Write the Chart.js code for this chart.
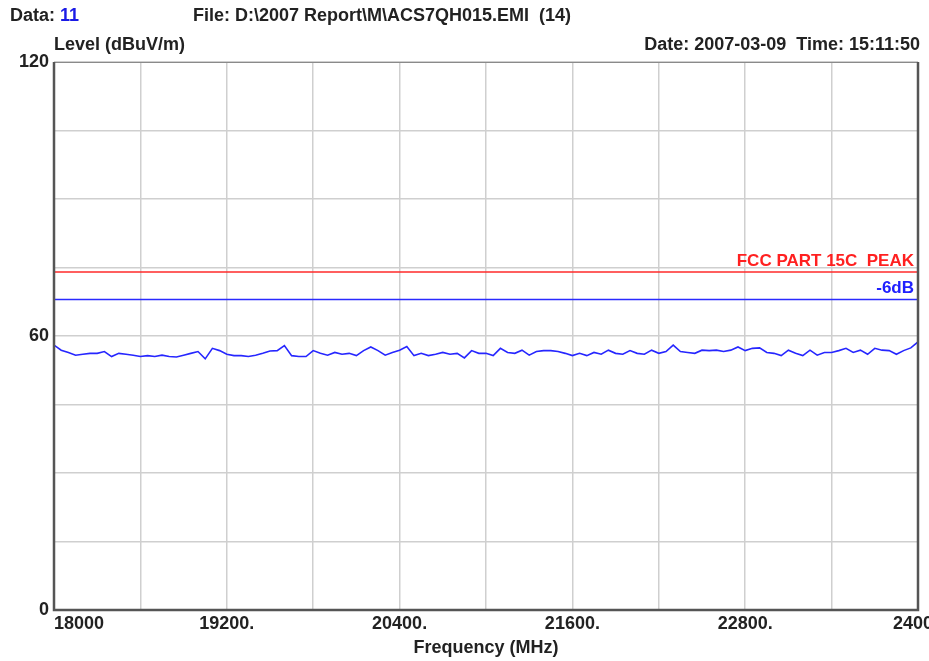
<!DOCTYPE html>
<html>
<head>
<meta charset="utf-8">
<title>EMI scan</title>
<script src="https://cdn.jsdelivr.net/npm/chart.js@4.4.1/dist/chart.umd.min.js"></script>
<style>
    html, body { margin: 0; padding: 0; background: #fff; }
    #wrap { width: 929px; height: 661px; }
</style>
</head>
<body>
<div id="wrap"><canvas id="emiChart" width="929" height="661"></canvas></div>
<script>
// scan frequencies (MHz)
const freqs = [
    18000, 18050, 18100, 18150, 18200, 18250, 18300, 18350, 18400, 18450,
    18500, 18550, 18600, 18650, 18700, 18750, 18800, 18850, 18900, 18950,
    19000, 19050, 19100, 19150, 19200, 19250, 19300, 19350, 19400, 19450,
    19500, 19550, 19600, 19650, 19700, 19750, 19800, 19850, 19900, 19950,
    20000, 20050, 20100, 20150, 20200, 20250, 20300, 20350, 20400, 20450,
    20500, 20550, 20600, 20650, 20700, 20750, 20800, 20850, 20900, 20950,
    21000, 21050, 21100, 21150, 21200, 21250, 21300, 21350, 21400, 21450,
    21500, 21550, 21600, 21650, 21700, 21750, 21800, 21850, 21900, 21950,
    22000, 22050, 22100, 22150, 22200, 22250, 22300, 22350, 22400, 22450,
    22500, 22550, 22600, 22650, 22700, 22750, 22800, 22850, 22900, 22950,
    23000, 23050, 23100, 23150, 23200, 23250, 23300, 23350, 23400, 23450,
    23500, 23550, 23600, 23650, 23700, 23750, 23800, 23850, 23900, 23950,
    24000
];

// measured level (dBuV/m), peak detector
const levels = [
    58.0, 56.9, 56.4, 55.8, 56.0, 56.2, 56.2, 56.6, 55.5, 56.2,
    56.0, 55.8, 55.5, 55.7, 55.5, 55.8, 55.5, 55.4, 55.8, 56.2,
    56.6, 55.0, 57.3, 56.8, 56.0, 55.7, 55.7, 55.5, 55.8, 56.2,
    56.7, 56.8, 57.9, 55.7, 55.5, 55.5, 56.8, 56.2, 55.8, 56.4,
    56.0, 56.2, 55.7, 56.8, 57.6, 56.8, 55.8, 56.4, 56.9, 57.7,
    55.7, 56.2, 55.7, 56.0, 56.4, 56.0, 56.2, 55.2, 56.8, 56.2,
    56.2, 55.7, 57.3, 56.4, 56.2, 56.9, 55.8, 56.6, 56.8, 56.8,
    56.6, 56.2, 55.7, 56.2, 55.7, 56.4, 56.0, 56.9, 56.2, 56.0,
    56.8, 56.2, 56.0, 56.9, 56.2, 56.6, 58.0, 56.6, 56.4, 56.2,
    56.9, 56.8, 56.9, 56.6, 56.9, 57.6, 56.8, 57.3, 57.4, 56.4,
    56.2, 55.7, 56.9, 56.2, 55.7, 56.9, 55.8, 56.4, 56.4, 56.8,
    57.3, 56.4, 56.9, 56.0, 57.3, 56.9, 56.8, 56.0, 56.8, 57.4,
    58.7
];

const freqRange = [18000, 24000];
const levelRange = [0, 120];
const limitPeak = 74;   // FCC PART 15C PEAK
const limitMargin = 68; // -6dB
const xLabels = { 18000: '18000', 19200: '19200.', 20400: '20400.', 21600: '21600.', 22800: '22800.', 24000: '24000' };
const yLabels = { 0: '0', 60: '60', 120: '120' };

const FONT = '"Liberation Sans", Arial, sans-serif';

// text, frame and tick labels around the plot
const decorPlugin = {
    id: 'decor',
    afterDraw(chart) {
        const ctx = chart.ctx;
        const area = chart.chartArea;
        const xs = chart.scales.x;
        const ys = chart.scales.y;
        ctx.save();

        // frame
        ctx.strokeStyle = '#8a8a8a';
        ctx.lineWidth = 1;
        ctx.beginPath();
        ctx.moveTo(area.left, area.top + 0.5);
        ctx.lineTo(area.right, area.top + 0.5);
        ctx.stroke();
        ctx.strokeStyle = '#555';
        ctx.lineWidth = 2.5;
        ctx.beginPath();
        ctx.moveTo(area.left, area.top);
        ctx.lineTo(area.left, area.bottom);
        ctx.lineTo(area.right, area.bottom);
        ctx.lineTo(area.right, area.top);
        ctx.stroke();

        ctx.textBaseline = 'middle';
        ctx.fillStyle = '#222';
        ctx.font = 'bold 18px ' + FONT;

        // y tick labels
        ctx.textAlign = 'right';
        Object.keys(yLabels).forEach(v => {
            ctx.fillText(yLabels[v], area.left - 5, ys.getPixelForValue(Number(v)));
        });

        // x tick labels
        Object.keys(xLabels).forEach(v => {
            const px = xs.getPixelForValue(Number(v));
            ctx.textAlign = Number(v) === freqRange[0] ? 'left' : 'center';
            ctx.fillText(xLabels[v], px, area.bottom + 14);
        });

        ctx.textAlign = 'center';
        ctx.fillText('Frequency (MHz)', (area.left + area.right) / 2, area.bottom + 38);

        // header
        ctx.textAlign = 'left';
        ctx.fillText('Data:', 10, 16);
        ctx.fillStyle = '#1a1ae6';
        ctx.fillText('11', 10 + ctx.measureText('Data: ').width, 16);
        ctx.fillStyle = '#222';
        ctx.fillText('File: D:\\2007 Report\\M\\ACS7QH015.EMI  (14)', 193, 16);
        ctx.fillText('Level (dBuV/m)', area.left, 45);
        ctx.textAlign = 'right';
        ctx.fillText('Date: 2007-03-09  Time: 15:11:50', area.right + 2, 45);

        // limit labels
        ctx.font = 'bold 17px ' + FONT;
        ctx.fillStyle = '#ff2020';
        ctx.fillText('FCC PART 15C  PEAK', area.right - 4, ys.getPixelForValue(limitPeak) - 11);
        ctx.fillStyle = '#2020ff';
        ctx.fillText('-6dB', area.right - 4, ys.getPixelForValue(limitMargin) - 11);

        ctx.restore();
    }
};

const ctx = document.getElementById('emiChart').getContext('2d');
const emiChart = new Chart(ctx, {
    type: 'line',
    data: {
        datasets: [
            {
                label: 'Level',
                data: freqs.map((f, i) => ({ x: f, y: levels[i] })),
                borderColor: '#2626ff',
                borderWidth: 1.6,
                pointRadius: 0,
                tension: 0
            },
            {
                label: 'FCC PART 15C PEAK',
                data: freqRange.map(f => ({ x: f, y: limitPeak })),
                borderColor: '#ff2a2a',
                borderWidth: 1.5,
                pointRadius: 0
            },
            {
                label: '-6dB',
                data: freqRange.map(f => ({ x: f, y: limitMargin })),
                borderColor: '#2a2aff',
                borderWidth: 1.5,
                pointRadius: 0
            }
        ]
    },
    options: {
        responsive: false,
        animation: false,
        layout: { padding: { left: 54, top: 62, right: 11, bottom: 51 } },
        plugins: { legend: { display: false }, tooltip: { enabled: false } },
        scales: {
            x: {
                type: 'linear',
                min: freqRange[0],
                max: freqRange[1],
                ticks: { stepSize: 600, display: false },
                grid: { color: '#cfcfcf', lineWidth: 1.5, drawTicks: false },
                border: { display: false }
            },
            y: {
                min: levelRange[0],
                max: levelRange[1],
                ticks: { stepSize: 15, display: false },
                grid: { color: '#cfcfcf', lineWidth: 1.5, drawTicks: false },
                border: { display: false }
            }
        }
    },
    plugins: [decorPlugin]
});
</script>
</body>
</html>
